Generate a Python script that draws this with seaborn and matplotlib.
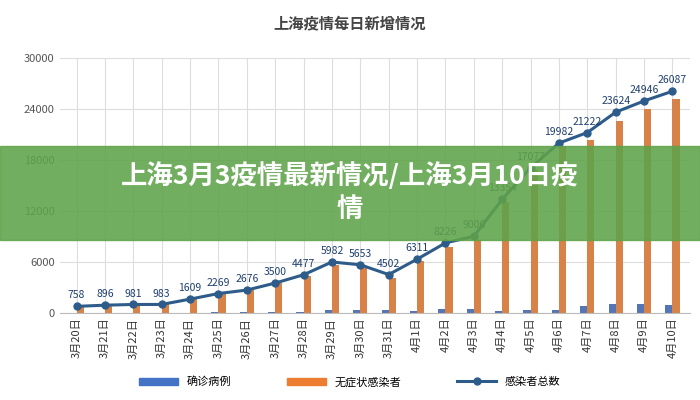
import matplotlib
matplotlib.use("Agg")
import matplotlib.pyplot as plt
from matplotlib import font_manager as fm
import seaborn as sns
import pandas as pd
import numpy as np
from matplotlib.lines import Line2D
from matplotlib.patches import Patch

names = sorted({f.name for f in fm.fontManager.ttflist if "CJK" in f.name and "Sans" in f.name})
pref = [n for n in names if "SC" in n] + names
plt.rcParams["font.family"] = "sans-serif"
plt.rcParams["font.sans-serif"] = pref + ["Noto Sans CJK SC", "DejaVu Sans"]

dates = ["3月20日","3月21日","3月22日","3月23日","3月24日","3月25日","3月26日","3月27日","3月28日","3月29日","3月30日","3月31日",
         "4月1日","4月2日","4月3日","4月4日","4月5日","4月6日","4月7日","4月8日","4月9日","4月10日"]
confirmed = [24,31,4,4,29,38,45,50,96,326,355,358,260,438,425,268,311,322,824,1015,1006,914]
asymptomatic = [734,865,977,979,1580,2231,2631,3450,4381,5656,5298,4144,6051,7788,8581,13086,16766,19660,20398,22609,23937,25173]
total = [758,896,981,983,1609,2269,2676,3500,4477,5982,5653,4502,6311,8226,9006,13354,17077,19982,21222,23624,24946,26087]
yticks = [0,6000,12000,18000,24000,30000]

df = pd.DataFrame({"date": dates*2, "value": confirmed+asymptomatic,
                   "series": ["确诊病例"]*len(dates)+["无症状感染者"]*len(dates)})

fig = plt.figure(figsize=(7,4), dpi=100)
fig.patch.set_facecolor("white")
ax = fig.add_axes([0.085, 0.218, 0.90, 0.637])
sns.barplot(data=df, x="date", y="value", hue="series", palette=["#4472c4","#ed7d31"],
            ax=ax, width=0.5, legend=False, gap=0)
x = np.arange(len(dates))
ax.plot(x, total, color="#2e5c8a", lw=2.2, marker="o", ms=5, zorder=5)
for xi, v in zip(x, total):
    ax.text(xi, v+700, str(v), ha="center", va="bottom", fontsize=7.5, color="#1f3f6e", zorder=6)
ax.set_ylim(0,30000)
ax.set_xlim(-0.6, len(dates)-0.4)
ax.set_yticks(yticks)
ax.set_yticklabels([str(t) for t in yticks], fontsize=8, color="#555")
ax.set_xticks(x)
ax.set_xticklabels(dates, rotation=90, fontsize=8, color="#333")
ax.set_xlabel(""); ax.set_ylabel("")
ax.grid(True, color="#dddddd", lw=0.8)
ax.set_axisbelow(True)
for s in ax.spines.values():
    s.set_visible(False)
ax.spines["bottom"].set_visible(True); ax.spines["bottom"].set_color("#bbbbbb")
ax.tick_params(length=0)
fig.text(0.5, 0.93, "上海疫情每日新增情况", ha="center", fontsize=11, fontweight="bold", color="#444")
handles = [Patch(color="#4472c4"), Patch(color="#ed7d31"),
           Line2D([0],[0], color="#2e5c8a", lw=2.2, marker="o", ms=5)]
fig.legend(handles, ["确诊病例","无症状感染者","感染者总数"], loc="center", bbox_to_anchor=(0.5,0.045),
           ncol=3, frameon=False, fontsize=8, handlelength=3.5, columnspacing=5)
fig.patches.append(plt.Rectangle((0,0.40),1,0.235, transform=fig.transFigure, color="#5fa34a", alpha=0.88, zorder=10))
fig.text(0.5, 0.518, "上海3月3疫情最新情况/上海3月10日疫\n情", ha="center", va="center", fontsize=19,
         fontweight="bold", color="white", zorder=11, linespacing=1.3)
fig.savefig("out.png", dpi=100)
